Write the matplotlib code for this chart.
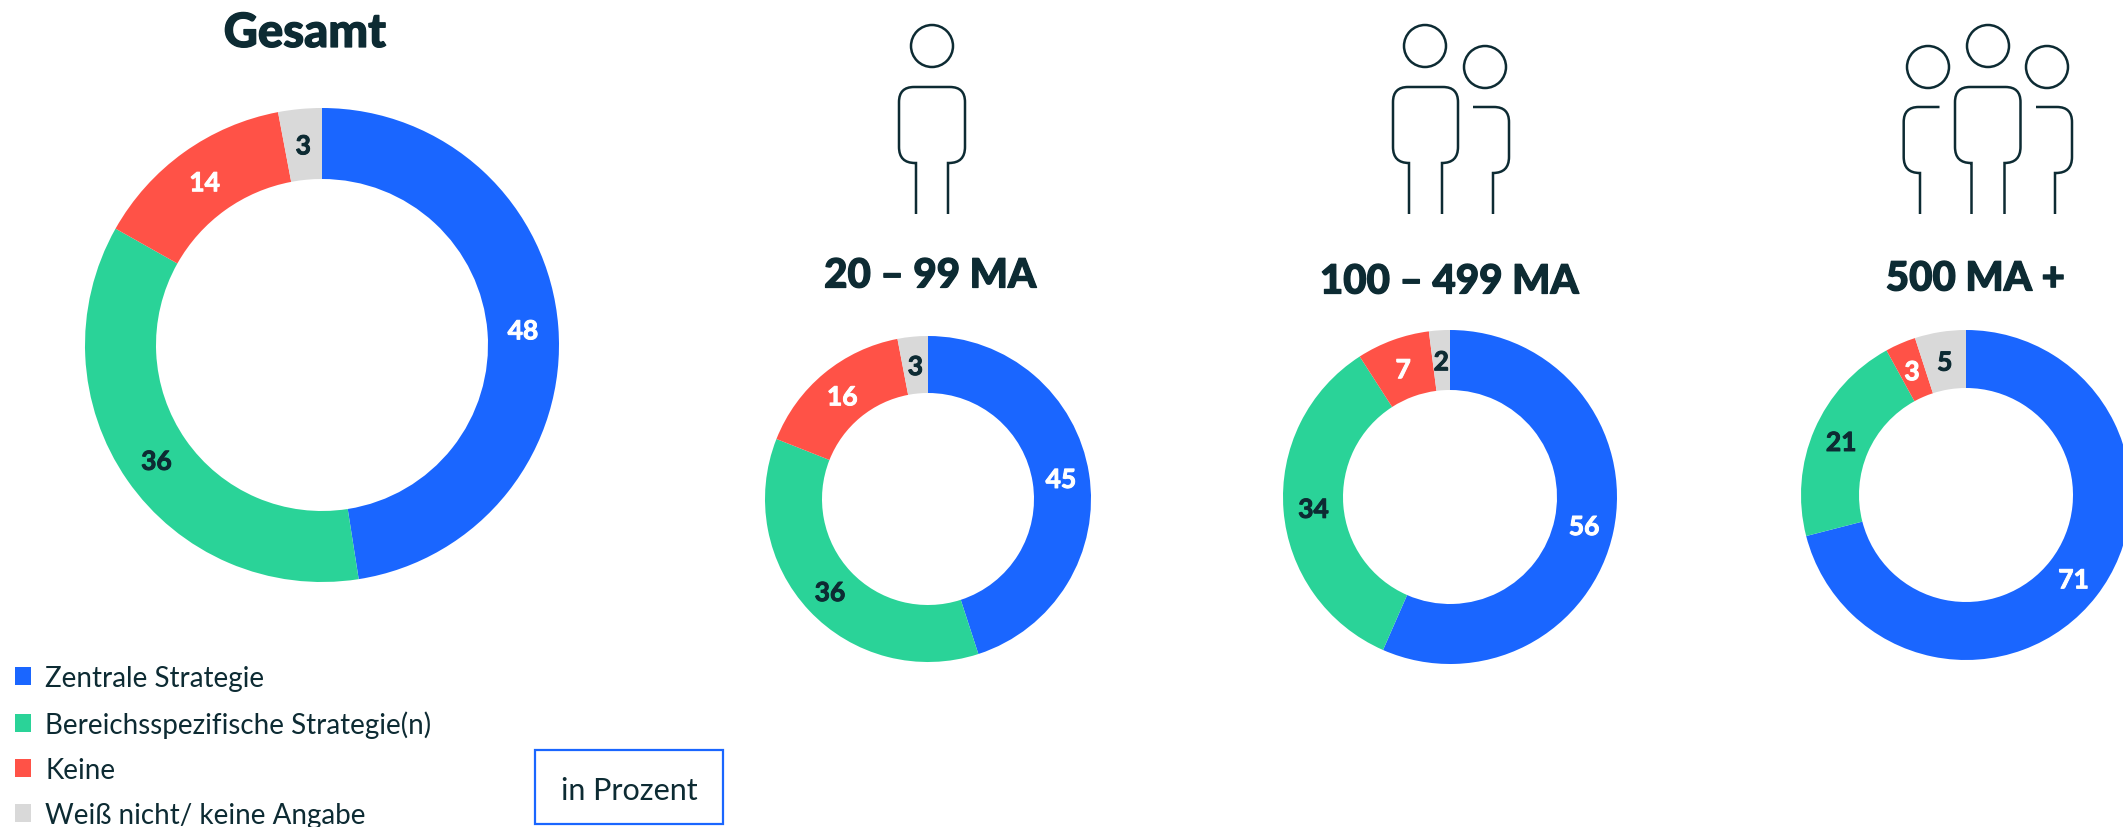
import matplotlib
matplotlib.use("Agg")
import matplotlib.pyplot as plt
from matplotlib.patches import Rectangle, Ellipse, PathPatch
from matplotlib.path import Path
import matplotlib.patheffects as pe
import numpy as np

W, H = 2123, 828
plt.rcParams['font.family'] = ['Lato', 'DejaVu Sans']

categories = ["Zentrale Strategie", "Bereichsspezifische Strategie(n)", "Keine", "Weiß nicht/ keine Angabe"]
colors = ["#1a66ff", "#2ad398", "#ff5247", "#d9d9d9"]
label_colors = ["white", "#0d2b33", "white", "#0d2b33"]
dark = "#0d2b33"

titles = ["Gesamt", "20 – 99 MA", "100 – 499 MA", "500 MA +"]
gesamt = [48, 36, 14, 3]
ma_20_99 = [45, 36, 16, 3]
ma_100_499 = [56, 34, 7, 2]
ma_500 = [71, 21, 3, 5]
series = [gesamt, ma_20_99, ma_100_499, ma_500]

# layout, in reference pixels: centre x, centre y, outer radius, inner radius
layout = [(322, 346, 237, 166), (928, 500, 163, 106), (1450, 498, 167, 107), (1966, 496, 165, 107)]
title_pos = [(305, 34), (930, 277), (1449, 283), (1975, 280)]
title_size = [34, 29, 29, 29]

fig = plt.figure(figsize=(W / 100, H / 100), dpi=100, facecolor="white")
ax = fig.add_axes([0, 0, 1, 1])


def heavy(color, lw):
    return [pe.withStroke(linewidth=lw, foreground=color)]


wedge_sets = []
for vals, (cx, cy, R, r) in zip(series, layout):
    wedges, _ = ax.pie(vals, colors=colors, startangle=90, counterclock=False,
                       center=(cx, H - cy), radius=R,
                       wedgeprops=dict(width=R - r, linewidth=0), frame=True)
    wedge_sets.append(wedges)
    mid = (R + r) / 2
    for w, v, c in zip(wedges, vals, label_colors):
        a = np.deg2rad((w.theta1 + w.theta2) / 2)
        ax.text(cx + mid * np.cos(a), H - cy + mid * np.sin(a) - 2, str(v), color=c,
                ha="center", va="center", fontsize=19, fontweight="bold",
                path_effects=heavy(c, 0.7))

ax.set_xlim(0, W)
ax.set_ylim(0, H)
ax.set_aspect("equal")
ax.axis("off")

for t, (x, y), s in zip(titles, title_pos, title_size):
    ax.text(x, H - y, t, ha="center", va="center", fontsize=s, fontweight="black", color=dark,
            path_effects=heavy(dark, 0.9))

# legend
ax.legend(wedge_sets[0], categories, loc="upper left", bbox_to_anchor=(14.5 / W, 1 - 666 / H),
          bbox_transform=ax.transAxes, frameon=False, fontsize=20, labelcolor=dark,
          handlelength=0.61, handleheight=0.61, handletextpad=0.5, labelspacing=0.69,
          borderpad=0, borderaxespad=0)

# "in Prozent" box
ax.add_patch(Rectangle((535, H - 825), 188, 74, fill=False, edgecolor="#1a66ff", linewidth=1.6))
ax.text(629, H - 791, "in Prozent", ha="center", va="center", fontsize=22, color=dark)


def outline(points):
    """Polyline of (x, y, corner radius) points, rounded where the radius is not 0."""
    verts = [points[0][:2]]
    codes = [Path.MOVETO]
    for i in range(1, len(points) - 1):
        p = np.array(points[i][:2], float)
        a = np.array(points[i - 1][:2], float)
        b = np.array(points[i + 1][:2], float)
        rad = points[i][2]
        if rad == 0:
            verts.append(tuple(p))
            codes.append(Path.LINETO)
            continue
        p1 = p + (a - p) / np.linalg.norm(a - p) * rad
        p2 = p + (b - p) / np.linalg.norm(b - p) * rad
        verts += [tuple(p1), tuple(p), tuple(p2)]
        codes += [Path.LINETO, Path.CURVE3, Path.CURVE3]
    verts.append(points[-1][:2])
    codes.append(Path.LINETO)
    verts = [(x, H - y) for x, y in verts]
    ax.add_patch(PathPatch(Path(verts, codes), fill=False, edgecolor=dark, linewidth=1.8, capstyle="butt"))


def head(x, y):
    ax.add_patch(Ellipse((x, H - y), 42, 42, fill=False, edgecolor=dark, linewidth=1.8))


def full_person(hx, x0, x1, l0, l1):
    head(hx, 47)
    outline([(l0, 215, 0), (l0, 164, 0), (x0, 164, 16), (x0, 88, 15), (x1, 88, 15),
             (x1, 164, 16), (l1, 164, 0), (l1, 215, 0)])


def side_person(hx, start, xr, leg):
    head(hx, 68)
    outline([(start, 108, 0), (xr, 108, 15), (xr, 174, 16), (leg, 174, 0), (leg, 215, 0)])


full_person(932, 899, 965, 916, 948)
full_person(1425, 1393, 1458, 1409, 1442)
side_person(1485, 1473, 1509, 1493)
full_person(1988, 1955, 2020.5, 1971.5, 2004.5)
side_person(2047, 2036, 2072, 2055)
side_person(1928, 1939.5, 1903.7, 1920)

fig.savefig("out.png", dpi=100, facecolor="white")
